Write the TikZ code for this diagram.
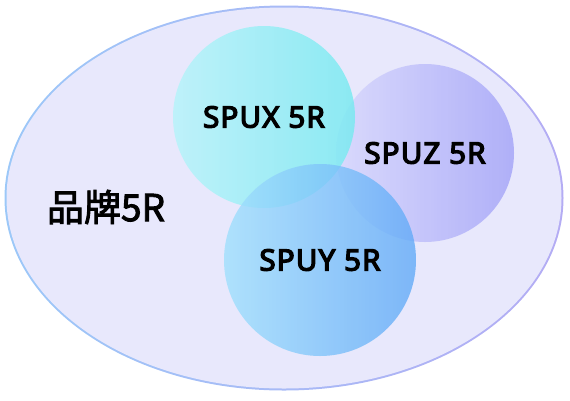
\documentclass[tikz,border=0pt]{standalone}
\usepackage{fontspec}
\newfontfamily\cjk[FakeBold=2.5]{Noto Sans CJK SC}
\newfontfamily\spufont[FakeBold=4.5, LetterSpace=4]{Noto Sans}
\definecolor{ringL}{HTML}{9CC8F8}
\definecolor{ringR}{HTML}{B4ACF4}
\definecolor{brandbg}{HTML}{E8E8FC}
\definecolor{xL}{HTML}{B4F4FA}
\definecolor{xR}{HTML}{74EAF0}
\definecolor{yL}{HTML}{A0E0FC}
\definecolor{yR}{HTML}{62AAF8}
\definecolor{zL}{HTML}{D6D6FC}
\definecolor{zR}{HTML}{A2A2F8}
\tikzset{
	spu/.style={circle, inner sep=0pt, font=\spufont\fontsize{29.5}{31}\selectfont, text=black, fill opacity=0.8, text opacity=1},
}

\begin{document}
\begin{tikzpicture}[x=1pt, y=-1pt]
		\useasboundingbox (0,0) rectangle (570,400);
		% outer brand ellipse
		\shade[left color=ringL, right color=ringR] (284,198) ellipse [x radius=279.5, y radius=192.5];
		\fill[brandbg] (284,198) ellipse [x radius=277.5, y radius=190.5];
		\node[font=\cjk\fontsize{37}{38}\selectfont] (brand) at (106,207) {品牌5R};
		% the three SPU circles
		\node[spu, minimum size=178pt, left color=zL, right color=zR] (spuz) at (425,153) {SPUZ 5R};
		\node[spu, minimum size=182pt, left color=xL, right color=xR] (spux) at (264,117) {SPUX 5R};
		\node[spu, minimum size=192pt, left color=yL, right color=yR] (spuy) at (320,260) {SPUY 5R};
\end{tikzpicture}
\end{document}
